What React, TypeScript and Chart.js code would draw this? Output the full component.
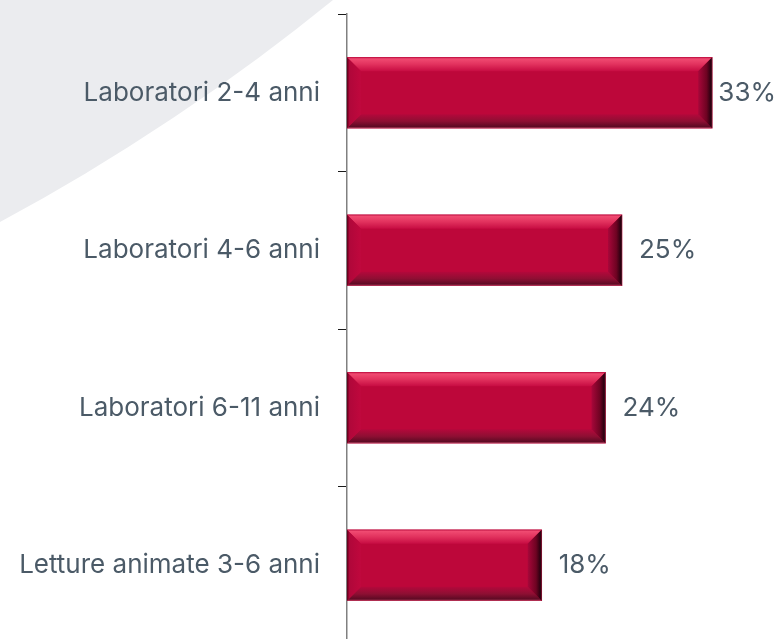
import React, { useEffect, useRef } from "react";
import { Chart, registerables } from "chart.js";

Chart.register(...registerables);

// ---- data ----
const categories: string[] = [
  "Laboratori 2-4 anni",
  "Laboratori 4-6 anni",
  "Laboratori 6-11 anni",
  "Letture animate 3-6 anni",
];
const values: number[] = [33.2, 25.0, 23.5, 17.7];
const valueLabels: string[] = values.map((v) => Math.round(v) + "%");

// ---- styles ----
const TEXT_COLOR = "#4b5a67";
const FONT_FAMILY = "Inter, 'Noto Sans', sans-serif";
const FONT_SIZE = 26;
const BAR_COLOR = "#bd073a";

const backgroundPlugin = {
  id: "bgShape",
  beforeDraw(chart: any) {
    const ctx = chart.ctx;
    ctx.save();
    ctx.fillStyle = "#ffffff";
    ctx.fillRect(0, 0, chart.width, chart.height);
    ctx.fillStyle = "#ebecef";
    ctx.beginPath();
    ctx.arc(-1008, -1651, 2127, 0, Math.PI / 2);
    ctx.lineTo(-1008, -1651);
    ctx.closePath();
    ctx.fill();
    ctx.restore();
  },
};

const bevelPlugin = {
  id: "bevel",
  afterDatasetsDraw(chart: any) {
    const ctx = chart.ctx;
    const meta = chart.getDatasetMeta(0);
    meta.data.forEach((el: any) => {
      const p = el.getProps(["x", "y", "base", "height"], true);
      const l = Math.min(p.base, p.x);
      const r = Math.max(p.base, p.x);
      const t = p.y - p.height / 2;
      const btm = p.y + p.height / 2;
      const b = 14;
      ctx.save();
      // top
      let g = ctx.createLinearGradient(0, t, 0, t + b);
      g.addColorStop(0, "#c41647");
      g.addColorStop(0.12, "#f04a71");
      g.addColorStop(0.5, "#e2325e");
      g.addColorStop(1, "#c70c42");
      ctx.fillStyle = g;
      ctx.beginPath();
      ctx.moveTo(l, t);
      ctx.lineTo(r, t);
      ctx.lineTo(r - b, t + b);
      ctx.lineTo(l + b, t + b);
      ctx.closePath();
      ctx.fill();
      // bottom
      g = ctx.createLinearGradient(0, btm - b, 0, btm);
      g.addColorStop(0, "#b4083b");
      g.addColorStop(0.5, "#8e0f33");
      g.addColorStop(0.88, "#5e0a24");
      g.addColorStop(1, "#b84463");
      ctx.fillStyle = g;
      ctx.beginPath();
      ctx.moveTo(l, btm);
      ctx.lineTo(r, btm);
      ctx.lineTo(r - b, btm - b);
      ctx.lineTo(l + b, btm - b);
      ctx.closePath();
      ctx.fill();
      // left
      g = ctx.createLinearGradient(l, 0, l + b, 0);
      g.addColorStop(0, "#5a0018");
      g.addColorStop(0.18, "#b0073a");
      g.addColorStop(1, "#c0083d");
      ctx.fillStyle = g;
      ctx.beginPath();
      ctx.moveTo(l, t);
      ctx.lineTo(l + b, t + b);
      ctx.lineTo(l + b, btm - b);
      ctx.lineTo(l, btm);
      ctx.closePath();
      ctx.fill();
      // right
      g = ctx.createLinearGradient(r - b, 0, r, 0);
      g.addColorStop(0, "#a8073a");
      g.addColorStop(0.6, "#6e0322");
      g.addColorStop(0.9, "#2a0010");
      g.addColorStop(1, "#5a1a2a");
      ctx.fillStyle = g;
      ctx.beginPath();
      ctx.moveTo(r, t);
      ctx.lineTo(r - b, t + b);
      ctx.lineTo(r - b, btm - b);
      ctx.lineTo(r, btm);
      ctx.closePath();
      ctx.fill();
      ctx.restore();
    });
  },
};

const valueLabelPlugin = {
  id: "valueLabels",
  afterDatasetsDraw(chart: any) {
    const ctx = chart.ctx;
    const meta = chart.getDatasetMeta(0);
    ctx.save();
    ctx.font = `${FONT_SIZE}px ${FONT_FAMILY}`;
    ctx.fillStyle = TEXT_COLOR;
    ctx.textBaseline = "middle";
    ctx.textAlign = "left";
    meta.data.forEach((el: any, i: number) => {
      const text = valueLabels[i];
      const w = ctx.measureText(text).width;
      const x = Math.min(el.x + 17, chart.width - w - 2);
      ctx.fillText(text, x, el.y);
    });
    ctx.restore();
  },
};

export default function App() {
  const canvasRef = useRef<HTMLCanvasElement | null>(null);

  useEffect(() => {
    const canvas = canvasRef.current;
    if (!canvas) return;
    const chart = new Chart(canvas, {
      type: "bar",
      data: {
        labels: categories,
        datasets: [
          {
            data: values,
            backgroundColor: BAR_COLOR,
            borderWidth: 0,
            barThickness: 71,
          },
        ],
      },
      options: {
        indexAxis: "y",
        responsive: false,
        animation: false,
        layout: { padding: { left: 0, right: 13, top: 14, bottom: 16 } },
        plugins: {
          legend: { display: false },
          tooltip: { enabled: false },
        },
        scales: {
          x: { display: false, min: 0, max: 38 },
          y: {
            offset: true,
            grid: {
              display: true,
              offset: true,
              drawOnChartArea: false,
              drawTicks: true,
              tickLength: 9,
              tickColor: "#1a1a1a",
              lineWidth: 1,
            },
            border: { display: true, color: "#808080", width: 1.5 },
            ticks: {
              padding: 18,
              color: TEXT_COLOR,
              font: { family: FONT_FAMILY, size: FONT_SIZE },
            },
            afterFit: (s: any) => {
              s.width = 347;
              s.paddingTop = 0;
              s.paddingBottom = 0;
            },
          },
        },
      },
      plugins: [backgroundPlugin, bevelPlugin, valueLabelPlugin],
    } as any);
    return () => chart.destroy();
  }, []);

  return (
    <div style={{ position: "fixed", top: 0, left: 0, width: 778, height: 660 }}>
      <canvas ref={canvasRef} width={778} height={660} style={{ display: "block" }} />
    </div>
  );
}
